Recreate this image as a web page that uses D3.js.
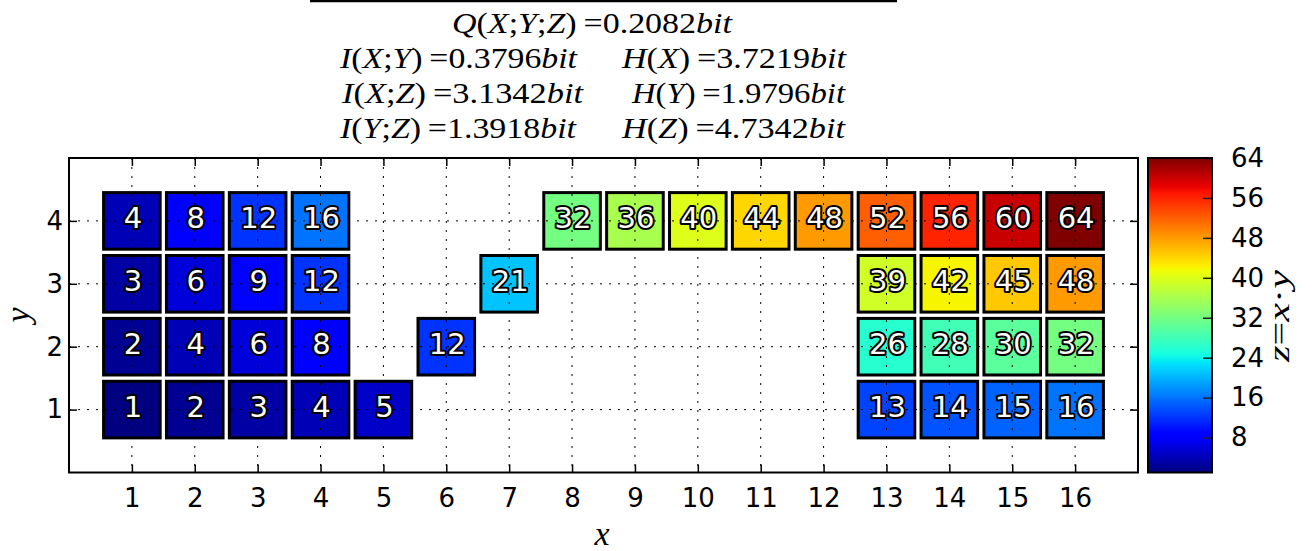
<!DOCTYPE html>
<meta charset="utf-8">
<style>
  body { margin: 0; background: #fff; }
  .tick text, .lbl { font-family: 'DejaVu Sans', sans-serif; }
  .math { font-family: 'Liberation Serif', serif; }
</style>
<script src="https://d3js.org/d3.v7.min.js"></script>
<div id="chart"></div>
<script>

// cells: position and value z
var cellX = [1, 1, 1, 1, 2, 2, 2, 2, 3, 3, 3, 3, 4, 4, 4, 4, 5, 6, 7, 8, 9, 10, 11, 12,
             13, 13, 13, 13, 14, 14, 14, 14, 15, 15, 15, 15, 16, 16, 16, 16];
var cellY = [1, 2, 3, 4, 1, 2, 3, 4, 1, 2, 3, 4, 1, 2, 3, 4, 1, 2, 3, 4, 4, 4, 4, 4,
             1, 2, 3, 4, 1, 2, 3, 4, 1, 2, 3, 4, 1, 2, 3, 4];
var cellZ = [1, 2, 3, 4, 2, 4, 6, 8, 3, 6, 9, 12, 4, 8, 12, 16, 5, 12, 21, 32, 36, 40, 44, 48,
             13, 26, 39, 52, 14, 28, 42, 56, 15, 30, 45, 60, 16, 32, 48, 64];

var xTicks = [1, 2, 3, 4, 5, 6, 7, 8, 9, 10, 11, 12, 13, 14, 15, 16];
var yTicks = [1, 2, 3, 4];
var cbTicks = [8, 16, 24, 32, 40, 48, 56, 64];

// title lines: [text, left, right, baseline]
var titleParts = [
  ["Q(X;Y;Z)\u2009=0.2082bit", 452, 732, 33],
  ["I(X;Y)\u2009=0.3796bit", 340, 577, 68],
  ["H(X)\u2009=3.7219bit", 622, 846, 68],
  ["I(X;Z)\u2009=3.1342bit", 342, 583, 103],
  ["H(Y)\u2009=1.9796bit", 632, 845, 103],
  ["I(Y;Z)\u2009=1.3918bit", 340, 576, 138],
  ["H(Z)\u2009=4.7342bit", 622, 845, 138]
];

var W = 1314, H = 551;
var ax = {left: 69, right: 1138, top: 158, bottom: 472.5};
var cb = {left: 1148, right: 1212};

var svg = d3.select("#chart").append("svg")
    .attr("width", W)
    .attr("height", H);

var x = d3.scaleLinear().domain([0, 17]).range([ax.left, ax.right]);
var y = d3.scaleLinear().domain([0, 5]).range([ax.bottom, ax.top]);
var zc = d3.scaleLinear().domain([1, 64]).range([ax.bottom, ax.top]);

// matplotlib jet
function seg(pts, t) {
  for (var i = 1; i < pts.length; i++) {
    if (t <= pts[i][0]) {
      var a = pts[i - 1], b = pts[i];
      return a[1] + (b[1] - a[1]) * (t - a[0]) / (b[0] - a[0]);
    }
  }
  return pts[pts.length - 1][1];
}
var jR = [[0, 0], [0.35, 0], [0.66, 1], [0.89, 1], [1, 0.5]];
var jG = [[0, 0], [0.125, 0], [0.375, 1], [0.64, 1], [0.91, 0], [1, 0]];
var jB = [[0, 0.5], [0.11, 1], [0.34, 1], [0.65, 0], [1, 0]];
function jet(t) {
  t = Math.max(0, Math.min(1, t));
  return d3.rgb(255 * seg(jR, t), 255 * seg(jG, t), 255 * seg(jB, t)).formatHex();
}
function zcolor(v) { return jet((v - 1) / 63); }

// cells
var cells = cellZ.map(function(v, i) { return {x: cellX[i], y: cellY[i], z: v}; });
var cw = x(0.9) - x(0);

svg.append("g").selectAll("rect")
  .data(cells)
  .enter().append("rect")
    .attr("x", function(d) { return x(d.x - 0.45); })
    .attr("y", function(d) { return y(d.y + 0.45); })
    .attr("width", cw)
    .attr("height", cw)
    .style("fill", function(d) { return zcolor(d.z); })
    .style("stroke", "black")
    .style("stroke-width", 3);

// dotted grid on top of the cells
var grid = svg.append("g")
  .attr("stroke", "black")
  .attr("stroke-width", 1)
  .attr("stroke-dasharray", "2,7");
grid.selectAll(".gx").data(xTicks).enter().append("line")
  .attr("x1", function(d) { return x(d); }).attr("x2", function(d) { return x(d); })
  .attr("y1", ax.top).attr("y2", ax.bottom);
grid.selectAll(".gy").data(yTicks).enter().append("line")
  .attr("y1", function(d) { return y(d); }).attr("y2", function(d) { return y(d); })
  .attr("x1", ax.left).attr("x2", ax.right);

// cell labels
svg.append("g").selectAll("text")
  .data(cells)
  .enter().append("text")
    .attr("class", "lbl")
    .attr("x", function(d) { return x(d.x) + 1; })
    .attr("y", function(d) { return y(d.y) + 7; })
    .attr("text-anchor", "middle")
    .style("font-size", "29px")
    .style("fill", "white")
    .style("stroke", "black")
    .style("stroke-width", 4)
    .style("stroke-linejoin", "round")
    .style("paint-order", "stroke")
    .text(function(d) { return d.z; });

// axes with inward ticks on all sides
var tl = 8;
function styleAxis(g) {
  g.select(".domain").remove();
  g.selectAll(".tick line").attr("stroke", "black").attr("stroke-width", 1.5);
  g.selectAll(".tick text").style("font-size", "26px").attr("fill", "black");
}
svg.append("g")
  .attr("transform", "translate(0," + ax.bottom + ")")
  .call(d3.axisBottom(x).tickValues(xTicks).tickSize(-tl).tickPadding(16).tickFormat(d3.format("d")))
  .call(styleAxis);
svg.append("g")
  .attr("transform", "translate(0," + ax.top + ")")
  .call(d3.axisTop(x).tickValues(xTicks).tickSize(-tl).tickFormat(""))
  .call(styleAxis);
svg.append("g")
  .attr("transform", "translate(" + ax.left + ",0)")
  .call(d3.axisLeft(y).tickValues(yTicks).tickSize(-tl).tickPadding(6).tickFormat(d3.format("d")))
  .call(styleAxis);
svg.append("g")
  .attr("transform", "translate(" + ax.right + ",0)")
  .call(d3.axisRight(y).tickValues(yTicks).tickSize(-tl).tickFormat(""))
  .call(styleAxis);

svg.append("rect")
  .attr("x", ax.left).attr("y", ax.top)
  .attr("width", ax.right - ax.left).attr("height", ax.bottom - ax.top)
  .style("fill", "none").style("stroke", "black").style("stroke-width", 2);

// colorbar
var grad = svg.append("defs").append("linearGradient")
  .attr("id", "jetgrad")
  .attr("x1", 0).attr("y1", 1).attr("x2", 0).attr("y2", 0);
d3.range(0, 101).forEach(function(i) {
  grad.append("stop").attr("offset", i / 100).attr("stop-color", jet(i / 100));
});
svg.append("rect")
  .attr("x", cb.left).attr("y", ax.top)
  .attr("width", cb.right - cb.left).attr("height", ax.bottom - ax.top)
  .style("fill", "url(#jetgrad)");

var cbAxis = svg.append("g")
  .attr("transform", "translate(" + cb.right + ",0)")
  .call(d3.axisRight(zc).tickValues(cbTicks).tickSize(-9).tickPadding(19).tickFormat(d3.format("d")))
  .call(styleAxis);
cbAxis.selectAll(".tick line").attr("stroke", "#222");

svg.append("rect")
  .attr("x", cb.left).attr("y", ax.top)
  .attr("width", cb.right - cb.left).attr("height", ax.bottom - ax.top)
  .style("fill", "none").style("stroke", "black").style("stroke-width", 2);

// math text: letters italic, everything else upright
function mathText(sel, str) {
  var runs = str.match(/[A-Za-z]+|[^A-Za-z]+/g);
  runs.forEach(function(r) {
    sel.append("tspan")
      .style("font-style", /[A-Za-z]/.test(r) ? "italic" : "normal")
      .text(r);
  });
}

svg.append("line")
  .attr("x1", 310).attr("x2", 897).attr("y1", 1).attr("y2", 1)
  .attr("stroke", "black").attr("stroke-width", 2.5);

titleParts.forEach(function(p) {
  var t = svg.append("text")
    .attr("class", "math")
    .attr("x", p[1]).attr("y", p[3])
    .attr("textLength", p[2] - p[1])
    .attr("lengthAdjust", "spacingAndGlyphs")
    .style("font-size", "29px");
  mathText(t, p[0]);
});

// axis labels
svg.append("text").attr("class", "math")
  .attr("x", 602).attr("y", 545)
  .attr("text-anchor", "middle")
  .style("font-size", "34px").style("font-style", "italic")
  .text("x");

svg.append("text").attr("class", "math")
  .attr("transform", "translate(29,315)rotate(-90)")
  .attr("text-anchor", "middle")
  .style("font-size", "34px").style("font-style", "italic")
  .text("y");

var cbl = svg.append("text").attr("class", "math")
  .attr("transform", "translate(1289,362)rotate(-90)")
  .attr("textLength", 92)
  .attr("lengthAdjust", "spacingAndGlyphs")
  .style("font-size", "30px");
mathText(cbl, "z=x\u00b7y");

</script>
